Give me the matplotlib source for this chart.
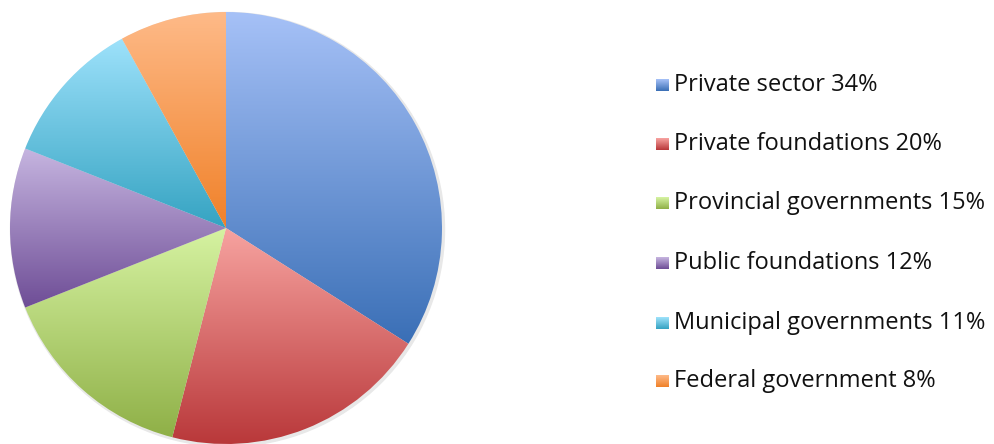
import numpy as np
import matplotlib
matplotlib.use('Agg')
import matplotlib.pyplot as plt
from matplotlib.colors import to_rgb

# Data
labels = ['Private sector', 'Private foundations', 'Provincial governments',
          'Public foundations', 'Municipal governments', 'Federal government']
shares = [34, 20, 15, 12, 11, 8]

# Gradient colours per slice (top, bottom)
top_colors = ['#a6c1f7', '#f7a3a0', '#d6f3a2', '#c6b5e0', '#9ee2fb', '#feba88']
bottom_colors = ['#3a6fb6', '#b9383a', '#8fb047', '#6e4d96', '#35a3c2', '#f08129']

plt.rcParams['font.family'] = ['Open Sans', 'DejaVu Sans']

fig = plt.figure(figsize=(9.95, 4.44), dpi=100)
ax = fig.add_axes([0, 0, 1, 1])
ax.set_axis_off()


def gradient(top, bottom, n=256):
    t = np.linspace(0, 1, n)[:, None]
    c0 = np.array(to_rgb(bottom))
    c1 = np.array(to_rgb(top))
    img = c0 + (c1 - c0) * t
    return img[:, None, :].repeat(2, axis=1)


cx, cy, r = 226, 444 - 228, 216

# faint shadow behind the pie
ax.add_patch(plt.Circle((cx + 1.5, cy - 1.5), r + 1, color='#e8e8e8', zorder=0))

wedges, _ = ax.pie(shares, startangle=90, counterclock=False, radius=r,
                   center=(cx, cy), frame=True,
                   wedgeprops=dict(linewidth=0))
for w, ctop, cbot in zip(wedges, top_colors, bottom_colors):
    w.set_facecolor('none')
    ext = w.get_path().get_extents()
    im = ax.imshow(gradient(ctop, cbot), origin='lower', aspect='auto',
                   extent=(ext.x0, ext.x1, ext.y0, ext.y1), zorder=1,
                   interpolation='bilinear')
    im.set_clip_path(w)

# legend drawn in pixel coordinates
row_y = [85, 144, 203, 263, 323, 381]
for lab, val, ctop, cbot, y in zip(labels, shares, top_colors, bottom_colors, row_y):
    yy = 444 - y
    ax.imshow(gradient(ctop, cbot, 32), origin='lower', aspect='auto',
              extent=(656, 669, yy - 6, yy + 6), zorder=2)
    ax.text(674, yy, f'{lab} {val}%', fontsize=17, va='center', ha='left',
            color='#111111')

ax.set_xlim(0, 995)
ax.set_ylim(0, 444)
ax.set_aspect('equal')
ax.set_axis_off()

fig.savefig('out.png', dpi=100)
